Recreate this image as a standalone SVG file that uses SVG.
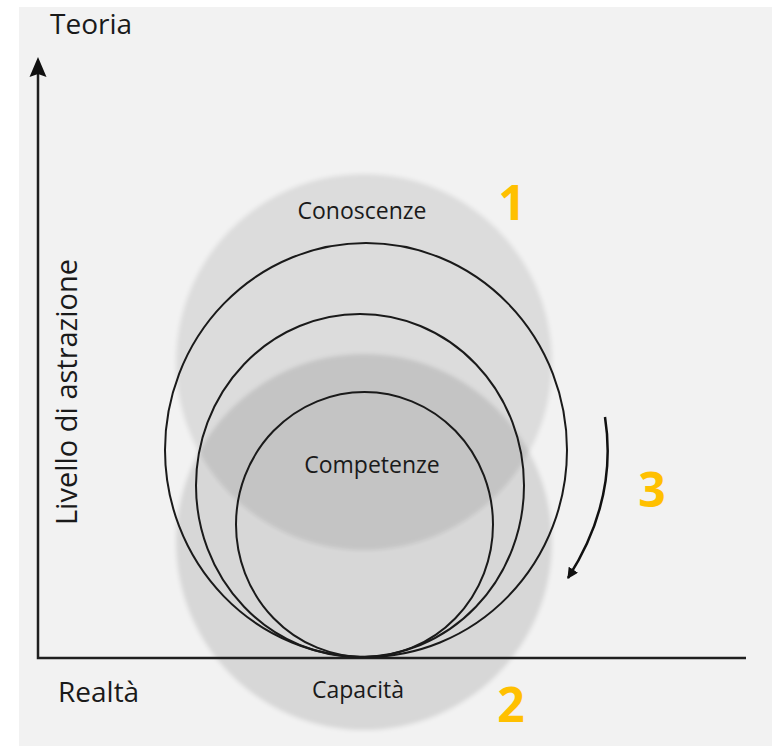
<svg xmlns="http://www.w3.org/2000/svg" width="772" height="746" viewBox="0 0 772 746">
  <defs>
    <style>
      .lbl { font-family: "Open Sans", "Liberation Sans", sans-serif; fill: #1a1a1a; }
      .num { font-family: "Open Sans", "Liberation Sans", sans-serif; font-weight: 700; fill: #ffc000; font-size: 48px; text-anchor: middle; }
      .axis { stroke: #202020; stroke-width: 2.5; fill: none; }
      .ring { stroke: #1a1a1a; stroke-width: 2; fill: none; }
      .blob { fill: #000; }
    </style>
    <filter id="soft" x="-10%" y="-10%" width="120%" height="120%">
      <feGaussianBlur stdDeviation="2"/>
    </filter>
    <marker id="head" viewBox="0 0 10 10" refX="9" refY="5" markerWidth="11" markerHeight="11" markerUnits="userSpaceOnUse" orient="auto">
      <path d="M0,0 L10,5 L0,10 z" fill="#111"/>
    </marker>
  </defs>

  <!-- panel -->
  <rect x="0" y="0" width="772" height="746" fill="#ffffff"/>
  <rect x="19" y="7" width="753" height="739" fill="#f2f2f2"/>

  <!-- shaded areas -->
  <g id="conoscenze-area" filter="url(#soft)">
    <circle class="blob" cx="364" cy="362" r="188" fill-opacity="0.09"/>
  </g>
  <g id="capacita-area" filter="url(#soft)">
    <circle class="blob" cx="364" cy="542" r="188" fill-opacity="0.11"/>
  </g>

  <!-- axes -->
  <g id="axes">
    <polyline class="axis" points="38,72 38,658 746,658"/>
    <polygon points="38,57 29.5,77 38,74 46.5,77" fill="#111"/>
  </g>

  <!-- converging rings -->
  <g id="rings">
    <ellipse class="ring" cx="366" cy="450" rx="201" ry="207"/>
    <ellipse class="ring" cx="360" cy="485.5" rx="164" ry="171.5"/>
    <ellipse class="ring" cx="364.5" cy="524.5" rx="128.5" ry="132.5"/>
  </g>

  <!-- direction arrow -->
  <g id="connectors">
    <path d="M605,417 Q618,500 568,578" stroke="#111" stroke-width="2.5" fill="none" marker-end="url(#head)"/>
  </g>

  <!-- labels -->
  <g id="teoria"><text class="lbl" x="50" y="34" font-size="28">Teoria</text></g>
  <g id="realta"><text class="lbl" x="58" y="702" font-size="28">Realtà</text></g>
  <g id="livello"><text class="lbl" font-size="29" text-anchor="middle" transform="translate(77,392) rotate(-90)">Livello di astrazione</text></g>
  <g id="conoscenze"><text class="lbl" x="362" y="219" font-size="23" text-anchor="middle">Conoscenze</text></g>
  <g id="competenze"><text class="lbl" x="372" y="473" font-size="23" text-anchor="middle">Competenze</text></g>
  <g id="capacita"><text class="lbl" x="358" y="698" font-size="23" text-anchor="middle">Capacità</text></g>

  <!-- step numbers -->
  <g id="step-1"><text class="num" x="512" y="220">1</text></g>
  <g id="step-2"><text class="num" x="511" y="722">2</text></g>
  <g id="step-3"><text class="num" x="652" y="507">3</text></g>
</svg>
